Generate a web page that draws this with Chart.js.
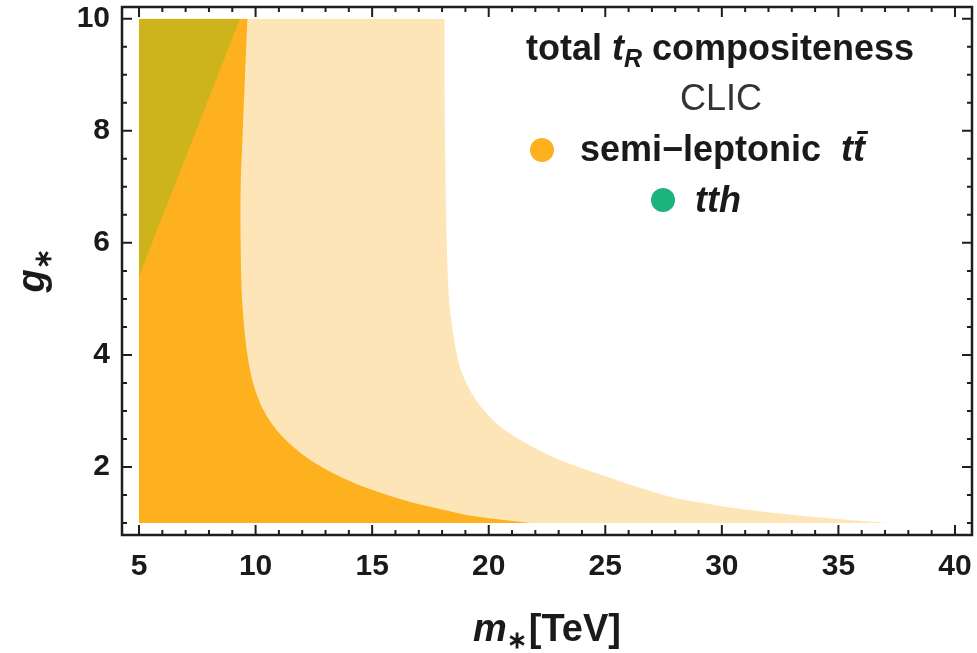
<!DOCTYPE html>
<html>
<head>
<meta charset="utf-8">
<script src="https://cdn.jsdelivr.net/npm/chart.js@4"></script>
<style>
  html, body { margin: 0; padding: 0; background: #fff; }
  #wrap { width: 977px; height: 653px; }
</style>
</head>
<body>
<div id="wrap"><canvas id="c" width="977" height="653"></canvas></div>
<script>
// tick labels
const xTicks = [5, 10, 15, 20, 25, 30, 35, 40];
const yTicks = [2, 4, 6, 8, 10];

// semi-leptonic tt, weaker bound (light band): m* reached at each g*
const gLight = [1.0, 1.05, 1.12, 1.23, 1.35, 1.47, 1.71, 1.95, 2.18, 2.42, 2.66, 2.96, 3.32, 3.79, 4.39, 5.0, 6.0, 8.0, 10.0];
const mLight = [37.2, 35.6, 33.6, 31.2, 29.3, 27.76, 25.9, 24.19, 22.76, 21.62, 20.69, 19.9, 19.26, 18.76, 18.47, 18.3, 18.2, 18.12, 18.1];

// semi-leptonic tt, stronger bound (dark band)
const gDark = [1.0, 1.07, 1.14, 1.23, 1.41, 1.65, 1.89, 2.13, 2.36, 2.66, 3.02, 3.49, 4.09, 5.0, 6.0, 7.0, 8.0, 9.0, 10.0];
const mDark = [21.8, 20.3, 19.1, 18.1, 16.33, 14.61, 13.33, 12.33, 11.61, 10.9, 10.33, 9.9, 9.62, 9.42, 9.36, 9.36, 9.45, 9.55, 9.65];

// tth bound (overlap with dark band)
const gTth = [5.4, 10.0];
const mTth = [5.0, 9.33];

const ORANGE = '#fdb11e';
const LIGHT = '#fee5b8';
const OLIVE = '#cdb31c';
const GREEN = '#1db37f';
const FONT = "'Liberation Sans', Arial, sans-serif";

function pts(gs, ms) { return gs.map((g, i) => ({ x: ms[i], y: g })); }

const xMinor = [];
for (let v = 5; v <= 40; v++) xMinor.push(v);
const yMinor = [];
for (let v = 1; v <= 10; v += 0.5) yMinor.push(v);

function runs(ctx, parts, x, y, align) {
  let w = 0;
  parts.forEach(p => { ctx.font = p.font; w += ctx.measureText(p.t).width + (p.gap || 0); });
  let cx = align === 'center' ? x - w / 2 : x;
  ctx.textAlign = 'left';
  ctx.textBaseline = 'alphabetic';
  parts.forEach(p => {
    ctx.font = p.font;
    ctx.fillStyle = p.color || '#1a1a1a';
    ctx.fillText(p.t, cx, y + (p.dy || 0));
    cx += ctx.measureText(p.t).width + (p.gap || 0);
  });
}

const frame = {
  id: 'frame',
  afterDraw(chart) {
    const { ctx, chartArea: a, scales: { x, y } } = chart;
    ctx.save();
    ctx.strokeStyle = '#1e1e1e';
    ctx.lineWidth = 2.5;
    ctx.strokeRect(a.left, a.top, a.right - a.left, a.bottom - a.top);
    ctx.lineWidth = 2;
    ctx.beginPath();
    xMinor.forEach(v => {
      const p = x.getPixelForValue(v);
      const len = xTicks.includes(v) ? 10 : 5;
      ctx.moveTo(p, a.bottom); ctx.lineTo(p, a.bottom - len);
      ctx.moveTo(p, a.top); ctx.lineTo(p, a.top + len);
    });
    yMinor.forEach(v => {
      const p = y.getPixelForValue(v);
      const len = yTicks.includes(v) ? 10 : 5;
      ctx.moveTo(a.left, p); ctx.lineTo(a.left + len, p);
      ctx.moveTo(a.right, p); ctx.lineTo(a.right - len, p);
    });
    ctx.stroke();

    // axis titles
    runs(ctx, [
      { t: 'm', font: `italic bold 38px ${FONT}` },
      { t: '\u2217', font: `bold 24px ${FONT}`, dy: 7, gap: 2 },
      { t: '[TeV]', font: `bold 38px ${FONT}` }
    ], (a.left + a.right) / 2, 641, 'center');

    ctx.save();
    ctx.translate(44, (a.top + a.bottom) / 2);
    ctx.rotate(-Math.PI / 2);
    runs(ctx, [
      { t: 'g', font: `italic bold 38px ${FONT}` },
      { t: '\u2217', font: `bold 24px ${FONT}`, dy: 7 }
    ], 0, 0, 'center');
    ctx.restore();

    // legend
    const lx = 720;
    runs(ctx, [
      { t: 'total ', font: `bold 36px ${FONT}` },
      { t: 't', font: `italic bold 36px ${FONT}` },
      { t: 'R', font: `italic bold 25px ${FONT}`, dy: 7 },
      { t: ' compositeness', font: `bold 36px ${FONT}` }
    ], lx, 60, 'center');
    runs(ctx, [{ t: 'CLIC', font: `36px ${FONT}`, color: '#333' }], lx + 1, 110, 'center');

    ctx.fillStyle = ORANGE;
    ctx.beginPath(); ctx.arc(542, 150, 12, 0, Math.PI * 2); ctx.fill();
    runs(ctx, [
      { t: 'semi\u2212leptonic  ', font: `bold 36px ${FONT}` },
      { t: 'tt\u0304', font: `italic bold 36px ${FONT}` }
    ], 580, 161, 'left');

    ctx.fillStyle = GREEN;
    ctx.beginPath(); ctx.arc(663, 200, 12, 0, Math.PI * 2); ctx.fill();
    runs(ctx, [{ t: 'tth', font: `italic bold 36px ${FONT}` }], 695, 212, 'left');
    ctx.restore();
  }
};

function region(gs, ms, color) {
  return {
    data: pts(gs, ms),
    backgroundColor: color,
    borderWidth: 0,
    pointRadius: 0,
    fill: { value: 5 },
    tension: 0.3
  };
}

new Chart(document.getElementById('c'), {
  type: 'line',
  data: {
    datasets: [
      region(gTth, mTth, OLIVE),
      region(gDark, mDark, ORANGE),
      region(gLight, mLight, LIGHT)
    ]
  },
  options: {
    indexAxis: 'y',
    responsive: false,
    animation: false,
    layout: { padding: { top: 7, right: 5, left: 0, bottom: 0 } },
    plugins: { legend: { display: false }, tooltip: { enabled: false } },
    scales: {
      x: {
        type: 'linear', min: 4.27, max: 40.73,
        grid: { display: false }, border: { display: false },
        afterBuildTicks: s => { s.ticks = xMinor.map(v => ({ value: v })); },
        afterFit: s => { s.height = 118; s.paddingLeft = 0; s.paddingRight = 0; },
        ticks: {
          autoSkip: false, maxRotation: 0, padding: 6, color: '#1a1a1a',
          font: { family: FONT, size: 30, weight: 'bold' },
          callback: v => xTicks.includes(v) ? String(v) : ''
        }
      },
      y: {
        type: 'linear', min: 0.786, max: 10.21,
        grid: { display: false }, border: { display: false },
        afterBuildTicks: s => { s.ticks = yMinor.map(v => ({ value: v })); },
        afterFit: s => { s.width = 122; s.paddingTop = 0; s.paddingBottom = 0; },
        ticks: {
          autoSkip: false, padding: 4, color: '#1a1a1a',
          font: { family: FONT, size: 30, weight: 'bold' },
          callback: v => yTicks.includes(v) ? String(v) : ''
        }
      }
    }
  },
  plugins: [frame]
});
</script>
</body>
</html>
